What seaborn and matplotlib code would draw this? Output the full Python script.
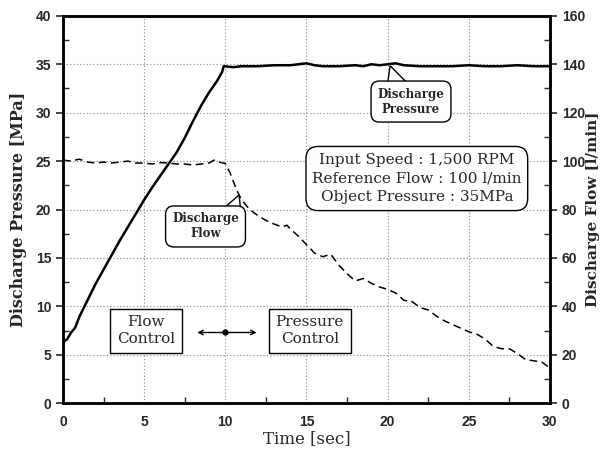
import matplotlib
matplotlib.use("Agg")
import matplotlib.pyplot as plt
import seaborn as sns
import pandas as pd
from matplotlib.patches import Polygon
from matplotlib.ticker import MultipleLocator

# discharge pressure [MPa] vs time [sec]
time_p = [0, 0.25, 0.5, 0.75, 1.0, 1.5, 2.0, 2.5, 3.0, 3.5, 4.0, 4.5, 5.0, 5.5,
          6.0, 6.5, 7.0, 7.5, 8.0, 8.5, 9.0, 9.5, 9.8, 9.9, 10.5, 11, 12, 13,
          14, 14.5, 15, 15.5, 16, 17, 18, 18.5, 19, 19.5, 20, 20.5, 21, 22,
          23, 24, 25, 26, 27, 28, 29, 30]
pressure = [6.3, 6.6, 7.3, 7.8, 8.9, 10.6, 12.3, 13.8, 15.3, 16.8, 18.2, 19.6,
            21.0, 22.3, 23.5, 24.7, 25.9, 27.4, 29.1, 30.7, 32.1, 33.3, 34.2,
            34.8, 34.7, 34.8, 34.8, 34.9, 34.9, 35.0, 35.1, 34.9, 34.8, 34.8,
            34.9, 34.8, 35.0, 34.9, 35.0, 35.1, 34.9, 34.8, 34.8, 34.8, 34.9,
            34.8, 34.8, 34.9, 34.8, 34.8]

# discharge flow [l/min] vs time [sec]
time_f = [0, 0.5, 1, 1.5, 2, 2.5, 3, 3.5, 4, 4.5, 5, 5.5, 6, 6.5, 7, 7.5, 8,
          8.5, 9.0, 9.3, 9.6, 10.0, 10.3, 10.7, 11, 11.5, 12, 12.5, 13, 13.5,
          13.8, 14, 14.5, 15, 15.5, 16, 16.5, 17, 17.5, 18, 18.5, 19, 19.5, 20,
          20.5, 21, 21.5, 22, 22.5, 23, 23.5, 24, 24.5, 25, 25.5, 26, 26.5, 27,
          27.5, 28, 28.5, 29, 29.5, 30]
flow = [100.4, 100.0, 100.8, 99.6, 99.2, 99.6, 99.2, 99.6, 100.0, 99.2, 99.2,
        98.8, 99.4, 99.2, 98.8, 98.8, 98.4, 98.8, 99.2, 100.4, 99.6, 99.0, 95,
        88, 84, 80, 77.5, 75.5, 74, 72.8, 73.5, 72, 69, 65.5, 62, 60.5, 61.5,
        57, 53.5, 50.5, 51.5, 49.5, 48, 47, 45.5, 42.5, 42, 39.5, 38.5, 36, 34,
        32.5, 31, 29.5, 28.5, 26.5, 23.5, 22.5, 22.5, 20.5, 18, 17.5, 17, 14.5]

x_ticks = [0, 5, 10, 15, 20, 25, 30]
info_lines = ["Input Speed : 1,500 RPM", "Reference Flow : 100 l/min",
              "Object Pressure : 35MPa"]

sns.set_style("white")
serif = ["DejaVu Serif"]
tick_font = {"family": "Liberation Sans", "weight": "bold", "size": 10}

df_p = pd.DataFrame({"t": time_p, "p": pressure})
df_f = pd.DataFrame({"t": time_f, "q": flow})

fig = plt.figure(figsize=(6.03, 4.53), dpi=100)
ax = fig.add_axes([0.1045, 0.110, 0.8075, 0.855])
ax2 = ax.twinx()

sns.lineplot(data=df_p, x="t", y="p", ax=ax, color="black", lw=1.8)
sns.lineplot(data=df_f, x="t", y="q", ax=ax2, color="black", lw=1.1,
             linestyle=(0, (5, 3)))

ax.set_xlim(0, 30)
ax.set_ylim(0, 40)
ax2.set_ylim(0, 160)
ax.set_xticks(x_ticks)
ax.xaxis.set_minor_locator(MultipleLocator(2.5))
ax.yaxis.set_major_locator(MultipleLocator(5))
ax.yaxis.set_minor_locator(MultipleLocator(2.5))
ax2.yaxis.set_major_locator(MultipleLocator(20))
ax2.yaxis.set_minor_locator(MultipleLocator(10))

ax.grid(True, which="major", ls=(0, (1, 2)), color="#888888", lw=0.8)
ax.set_axisbelow(True)

for a in (ax, ax2):
    for s in a.spines.values():
        s.set_linewidth(1.8)
        s.set_color("black")
for a in (ax, ax2):
    a.tick_params(which="major", direction="out", length=5, width=1.2)
    a.tick_params(which="minor", direction="in", length=4, width=1.0)
ax.tick_params(axis="y", which="minor", left=True)
ax.tick_params(axis="x", which="minor", bottom=True)
ax2.tick_params(axis="y", which="minor", right=True)
for lab in ax.get_xticklabels() + ax.get_yticklabels() + ax2.get_yticklabels():
    lab.set_fontproperties(tick_font)

ax.set_xlabel("Time [sec]", family=serif, fontsize=12, labelpad=1)
ax.set_ylabel("Discharge Pressure [MPa]", family=serif, fontsize=11.5,
              fontweight="bold", labelpad=6)
ax2.set_ylabel("Discharge Flow [l/min]", family=serif, fontsize=11,
               fontweight="bold", rotation=90, labelpad=1)

# speech-bubble callouts: pointer triangle under a rounded box
bub = dict(boxstyle="round,pad=0.55,rounding_size=0.7", fc="white", ec="black", lw=1)
callouts = [("Discharge\nPressure", (21.44, 31.15),
             [(20.15, 34.85), (19.95, 32.4), (21.6, 32.4)]),
            ("Discharge\nFlow", (8.78, 18.25),
             [(10.85, 21.5), (9.6, 19.7), (11.0, 19.0)])]
for label, center, pointer in callouts:
    ax.add_patch(Polygon(pointer, closed=True, fc="white", ec="black", lw=1,
                         zorder=4))
    ax.text(center[0], center[1], label, ha="center", va="center",
            family=serif, fontsize=8.5, fontweight="bold", bbox=bub, zorder=5)

ax.text(21.8, 23.2, "\n".join(info_lines), ha="center", va="center",
        family=serif, fontsize=11, linespacing=1.45, zorder=5,
        bbox=dict(boxstyle="round,pad=0.4,rounding_size=0.8", fc="white",
                  ec="black", lw=1))

sq = dict(boxstyle="square,pad=0.45", fc="white", ec="black", lw=1)
ax.text(5.1, 7.5, "Flow\nControl", ha="center", va="center", family=serif,
        fontsize=11, linespacing=1.2, bbox=sq, zorder=5)
ax.text(15.2, 7.5, "Pressure\nControl", ha="center", va="center", family=serif,
        fontsize=11, linespacing=1.2, bbox=sq, zorder=5)
ax.annotate("", xy=(8.1, 7.3), xytext=(12.1, 7.3),
            arrowprops=dict(arrowstyle="<->", color="black", lw=1,
                            mutation_scale=8))
ax.plot([10], [7.3], "o", color="black", ms=3.5)

fig.savefig("out.png", dpi=100)
